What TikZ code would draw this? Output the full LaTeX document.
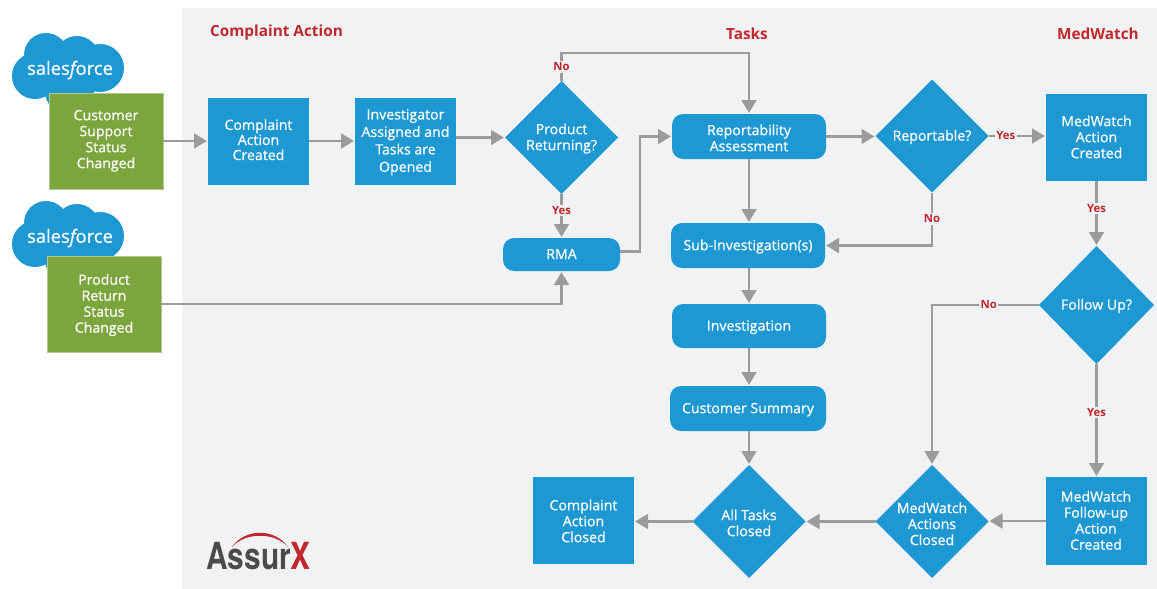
\documentclass[tikz,border=0pt]{standalone}
\usepackage{fontspec}
\setmainfont{Open Sans}
\newfontfamily\boxfont{Open Sans}[FakeBold=0.5]
\newfontfamily\logofont{TeX Gyre Heros}[FakeStretch=0.8]
\usetikzlibrary{shapes.geometric,arrows.meta,calc}
\newdimen\pxu \pxu=0.75pt
\definecolor{panel}{HTML}{F1F2F4}
\definecolor{boxblue}{HTML}{1E98D2}
\definecolor{boxgreen}{HTML}{7CA53E}
\definecolor{arrowgray}{HTML}{9B9B9B}
\definecolor{headred}{HTML}{C0282D}
\definecolor{logogray}{HTML}{4B4B4D}
\tikzset{
  txt/.style={text=white,font=\boxfont\fontsize{10.6}{12}\selectfont,inner sep=0pt,outer sep=0pt},
  sq/.style={txt,fill=boxblue,rectangle,minimum width=101\pxu,minimum height=87\pxu},
  grn/.style={txt,fill=boxgreen,draw=boxgreen!60!white,line width=0.8\pxu,rectangle,minimum width=114\pxu,minimum height=96\pxu},
  rnd/.style={txt,fill=boxblue,rectangle,rounded corners=11\pxu,minimum width=154\pxu,minimum height=45\pxu},
  dia/.style={txt,fill=boxblue,diamond,aspect=1,minimum width=113\pxu,minimum height=113\pxu},
  conn/.style={draw=arrowgray,line width=2.6\pxu},
  arr/.style={conn,-{Triangle[length=9.75pt,width=11pt]},shorten >=1\pxu},
  lab/.style={text=headred,font=\fontsize{8.5}{10}\selectfont\bfseries,fill=panel,inner sep=1.5\pxu},
  head/.style={text=headred,font=\fontsize{11.5}{13}\selectfont\bfseries,inner sep=0pt},
  sflogo/.style={text=white,font=\boxfont\fontsize{13.8}{15}\selectfont,inner sep=0pt}
}
% text block of zero reported size, centred on the node and lowered by #1
\newcommand{\T}[2][1.1pt]{\makebox[0pt]{\raisebox{\dimexpr(\depth-\height)/2-#1\relax}[0pt][0pt]{\begin{tabular}{@{}c@{}}#2\end{tabular}}}}
\newcommand{\sfcloud}[1]{%
  \fill[boxblue] (46,{#1+55}) circle (22) (77,{#1+58}) circle (22) (100,{#1+68}) circle (24)
    (35,{#1+76}) circle (23) (70,{#1+78}) circle (28) (65,{#1+92}) circle (20);}
\begin{document}
\begin{tikzpicture}[x=0.75pt,y=-0.75pt]
\useasboundingbox (0,0) rectangle (1157,589);
\fill[panel] (182,8) rectangle (1157,589);
\sfcloud{0}
\sfcloud{168}
\node[sflogo] (sf1) at (70,70) {sales{\itshape f}orce};
\node[sflogo] (sf2) at (70,238) {sales{\itshape f}orce};
\node[head] (h1) at (276.5,33) {Complaint Action};
\node[head] (h2) at (747,34) {Tasks};
\node[head] (h3) at (1098,34) {MedWatch};
\node[grn] (g1) at (106,141) {\T[0pt]{Customer\\Support\\Status\\Changed}};
\node[grn] (g2) at (104,304) {\T{Product\\Return\\Status\\Changed}};
\node[sq] (cac) at (258.5,141) {\T[0.6pt]{Complaint\\[-0.7pt]Action\\[-0.7pt]Created}};
\node[sq] (inv) at (405.5,141) {\T{Investigator\\[1.1pt]Assigned and\\[1.1pt]Tasks are\\[1.1pt]Opened}};
\node[dia] (pr) at (561.5,137.5) {\T{Product\\Returning?}};
\node[rnd] (rep) at (749,136.5) {\T[2.6pt]{Reportability\\Assessment}};
\node[dia] (rpt) at (932,136) {\T{Reportable?}};
\node[sq] (mw) at (1096.5,137.5) {\T{MedWatch\\Action\\Created}};
\node[rnd,minimum width=117\pxu,minimum height=33\pxu] (rma) at (561.5,254.5) {\T{RMA}};
\node[rnd] (sub) at (748,245.5) {\T{Sub-Investigation(s)}};
\node[rnd,minimum height=44\pxu] (invg) at (749,326) {\T{Investigation}};
\node[rnd,minimum width=156\pxu] (cs) at (748,408.5) {\T{Customer Summary}};
\node[dia,minimum width=115\pxu,minimum height=118\pxu] (fu) at (1096.5,305) {\T{Follow Up?}};
\node[sq,minimum height=88\pxu] (mfu) at (1096,521) {\T{MedWatch\\Follow-up\\Action\\Created}};
\node[dia] (mac) at (932,521.5) {\T[3.3pt]{MedWatch\\Actions\\Closed}};
\node[dia] (atc) at (749,521.5) {\T[2.6pt]{All Tasks\\Closed}};
\node[sq] (cc) at (583.5,520.5) {\T[1.9pt]{Complaint\\Action\\Closed}};
\coordinate (noturn) at (561.5,53);
\draw[arr] (g1.east) -- (cac.west);
\draw[arr] (cac.east) -- (inv.west);
\draw[arr] (inv.east |- pr.west) -- (pr.west);
\draw[arr] (pr.south) -- node[lab,pos=.37] {Yes} (rma.north);
\draw[arr] (pr.north) -- node[lab] {No} (noturn) -| (rep.north);
\draw[arr] ($(rma.east)+(0,-3)$) -- ++(20,0) |- (rep.west);
\draw[arr] (g2.east) -| (rma.south);
\draw[arr] (rep.east) -- (rep.east -| rpt.west);
\draw[arr] (rpt.east) -- node[lab,pos=.3] {Yes} (rpt.east -| mw.west);
\draw[arr] (rep.south) -- (rep.south |- sub.north);
\draw[arr] (rpt.south) -- node[lab,pos=.5] {No} (rpt.south |- sub.east) -- (sub.east);
\draw[arr] (sub.south -| invg.north) -- (invg.north);
\draw[arr] (invg.south) -- (invg.south |- cs.north);
\draw[arr] (cs.south -| atc.north) -- (atc.north);
\draw[arr] (mw.south) -- node[lab,pos=.42] {Yes} (mw.south |- fu.north);
\draw[arr] (fu.south) -- node[lab,pos=.43] {Yes} (fu.south |- mfu.north);
\draw[arr] (fu.west) -- node[lab,pos=.47] {No} (mac.north |- fu.west) -- (mac.north);
\draw[arr] (mfu.west) -- (mfu.west -| mac.east);
\draw[arr] (mac.west) -- (atc.east);
\draw[arr] (atc.west) -- (atc.west -| cc.east);
\node[inner sep=0pt,anchor=base west,font=\logofont\bfseries\fontsize{28}{28}\selectfont,text=logogray] (logo) at (206,569.5) {Assur\textcolor{headred}{X}};
\fill[headred] (232,547) .. controls (245,528) and (275,528) .. (288,547) .. controls (275,532) and (245,532) .. cycle;
\end{tikzpicture}
\end{document}
